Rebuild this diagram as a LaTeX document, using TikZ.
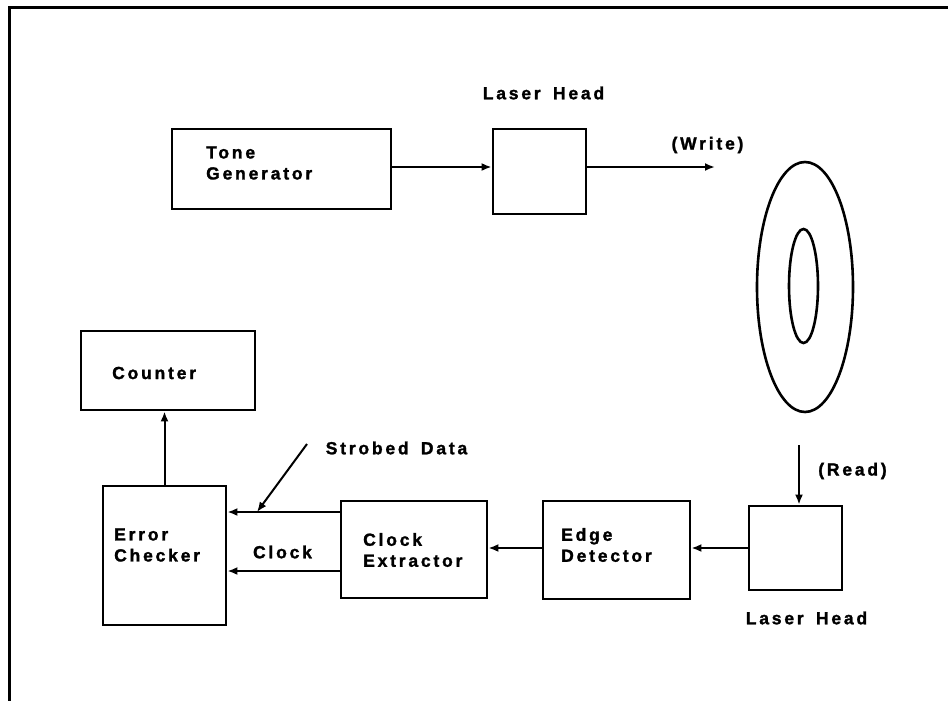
\documentclass[tikz,border=0pt]{standalone}
\usepackage{fontspec}
\newfontfamily\labfont{Liberation Sans}[LetterSpace=16,WordSpace=1.6,BoldFeatures={FakeBold=1.5}]
\usetikzlibrary{arrows.meta,shapes.geometric}
\begin{document}
\begin{tikzpicture}[x=1pt,y=-1pt,
  box/.style={draw, rectangle, line width=2.8pt, inner sep=0pt},
  disc/.style={draw, ellipse, line width=2.6pt, inner sep=0pt},
  lbl/.style={inner sep=0pt, align=left, font={\labfont\bfseries\fontsize{17.5}{21}\selectfont}},
  arr/.style={line width=2pt, -{Latex[length=10pt,width=8pt]}}]
\useasboundingbox (0,0) rectangle (948,701);
\fill[white] (0,0) rectangle (948,701);
% frame
\draw[line width=3pt] (9,701) -- (9,8) -- (948,8);
% boxes
\node[box, minimum width=219pt, minimum height=80pt] (tg) at (281.5,169) {};
\node[box, minimum width=93pt, minimum height=85pt] (lh1) at (539.5,171.5) {};
\node[box, minimum width=174pt, minimum height=79pt] (cnt) at (168,370.5) {};
\node[box, minimum width=123pt, minimum height=139pt] (ec) at (164.5,555.5) {};
\node[box, minimum width=146pt, minimum height=97pt] (ce) at (414,549.5) {};
\node[box, minimum width=147pt, minimum height=98pt] (ed) at (616.5,550) {};
\node[box, minimum width=93pt, minimum height=84pt] (lh2) at (795.5,548) {};
% disc
\node[disc, minimum width=96pt, minimum height=250pt] (outer) at (805,287) {};
\node[disc, minimum width=29pt, minimum height=114pt] (inner) at (803.5,286) {};
% texts
\node[lbl, anchor=west] (tgt) at (206,163) {Tone\\Generator};
\node[lbl] (lh1t) at (543.5,93) {Laser Head};
\node[lbl] (wt) at (707.5,145) {(Write)};
\node[lbl, anchor=west] (cntt) at (112,373) {Counter};
\node[lbl, anchor=west] (ect) at (114,545) {Error\\Checker};
\node[lbl, anchor=west] (cet) at (363,550) {Clock\\Extractor};
\node[lbl, anchor=west] (edt) at (561,545) {Edge\\Detector};
\node[lbl] (rt) at (852.5,471) {(Read)};
\node[lbl] (lh2t) at (806.5,618) {Laser Head};
\node[lbl] (sdt) at (396.5,448) {Strobed Data};
\node[lbl] (clt) at (282.5,552) {Clock};
% coordinates
\coordinate (wend) at (715,167);
\coordinate (rstart) at (799,445);
\coordinate (sd) at (307,444);
\coordinate (sdtip) at (257,512);
% connectors
\draw[arr] (tg.east |- wend) -- (lh1.west |- wend);
\draw[arr] (lh1.east |- wend) -- (wend);
\draw[arr] (rstart) -- (rstart |- lh2.north);
\draw[arr] (lh2.west) -- (lh2.west -| ed.east);
\draw[arr] (ed.west |- lh2.west) -- (ce.east |- lh2.west);
\draw[arr] (ce.west |- 0,512) -- (ec.east |- 0,512);
\draw[arr] (ce.west |- 0,571) -- (ec.east |- 0,571);
\draw[arr] (sd) -- (sdtip);
\draw[arr] (ec.north) -- (ec.north |- cnt.south);
\end{tikzpicture}
\end{document}
